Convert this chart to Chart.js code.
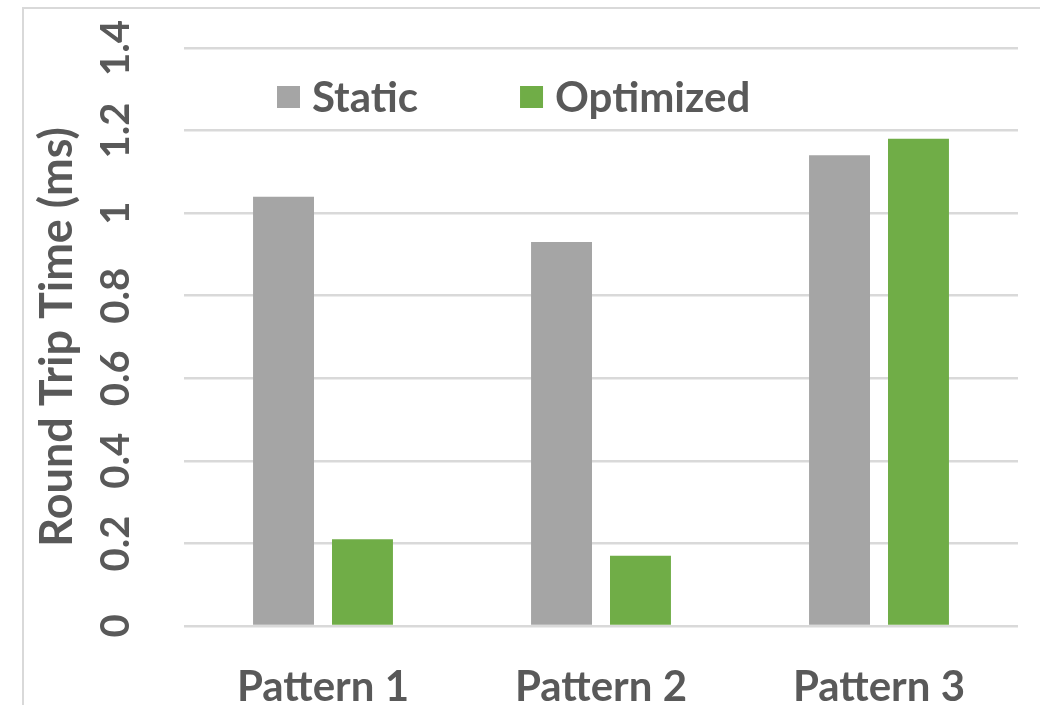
<!DOCTYPE html>
<html>
<head>
<meta charset="utf-8">
<script src="https://cdn.jsdelivr.net/npm/chart.js@4/dist/chart.umd.min.js"></script>
<style>
  html, body { margin: 0; padding: 0; background: #ffffff; }
  #wrap { position: relative; width: 1040px; height: 705px; }
  #frame { position: absolute; left: 22px; top: 7px; right: -2px; bottom: -2px;
           border-left: 2px solid #d9d9d9; border-top: 2px solid #d9d9d9; }
  canvas { position: absolute; left: 0; top: 0; }
</style>
</head>
<body>
<div id="wrap">
  <div id="frame"></div>
  <canvas id="c" width="1040" height="705"></canvas>
</div>
<script>
// Round trip time per traffic pattern, static vs optimized configuration
const categories = ['Pattern 1', 'Pattern 2', 'Pattern 3'];
const staticValues = [1.04, 0.93, 1.14];
const optimizedValues = [0.21, 0.17, 1.18];
const seriesNames = ['Static', 'Optimized'];
const yTicks = [0, 0.2, 0.4, 0.6, 0.8, 1, 1.2, 1.4];
const yTitle = 'Round Trip Time (ms)';

const TEXT = '#595959';
const FONT = 'Lato, "Open Sans", sans-serif';

// Legend drawn inside the top of the plot area
const insideLegend = {
  id: 'insideLegend',
  afterDraw(chart) {
    const { ctx, chartArea } = chart;
    ctx.save();
    ctx.font = 'bold 42px ' + FONT;
    ctx.textBaseline = 'middle';
    ctx.textAlign = 'left';
    let x = chartArea.left + 93;
    const yMid = chartArea.top + 49;
    chart.data.datasets.forEach((ds) => {
      ctx.fillStyle = ds.backgroundColor;
      ctx.fillRect(x, yMid - 11, 23, 22);
      x += 35;
      ctx.fillStyle = TEXT;
      ctx.fillText(ds.label, x, yMid + 1);
      x += ctx.measureText(ds.label).width + 102;
    });
    ctx.restore();
  }
};

new Chart(document.getElementById('c'), {
  type: 'bar',
  data: {
    labels: categories,
    datasets: [
      { label: seriesNames[0], data: staticValues, backgroundColor: '#A5A5A5' },
      { label: seriesNames[1], data: optimizedValues, backgroundColor: '#70AD47' }
    ]
  },
  options: {
    responsive: false,
    animation: false,
    devicePixelRatio: 1,
    layout: { padding: { left: 0, right: 22, top: 48, bottom: 0 } },
    datasets: {
      bar: { categoryPercentage: 0.568, barPercentage: 0.772 }
    },
    plugins: {
      legend: { display: false },
      tooltip: { enabled: false }
    },
    scales: {
      x: {
        grid: { display: false, drawTicks: false },
        border: { display: false },
        ticks: {
          color: TEXT,
          font: { family: FONT, size: 42, weight: 'bold' },
          padding: 36,
          maxRotation: 0
        },
        afterFit(scale) { scale.height = 79; }
      },
      y: {
        min: 0,
        max: 1.4,
        afterBuildTicks(scale) { scale.ticks = yTicks.map(v => ({ value: v })); },
        grid: { color: '#d9d9d9', lineWidth: 2.5, drawTicks: false },
        border: { display: false },
        ticks: {
          color: TEXT,
          font: { family: FONT, size: 40, weight: 'bold' },
          minRotation: 90,
          maxRotation: 90,
          crossAlign: 'center',
          padding: 40,
          callback: (v) => String(v)
        },
        title: {
          display: true,
          text: yTitle,
          color: TEXT,
          font: { family: FONT, size: 45, weight: 'bold' },
          padding: { top: 30, bottom: 0 }
        },
        afterFit(scale) {
          scale.width = 184;
          // rotated end labels may overhang; keep the plot top fixed
          scale.paddingTop = 0;
          scale.paddingBottom = 0;
        }
      }
    }
  },
  plugins: [insideLegend]
});
</script>
</body>
</html>
